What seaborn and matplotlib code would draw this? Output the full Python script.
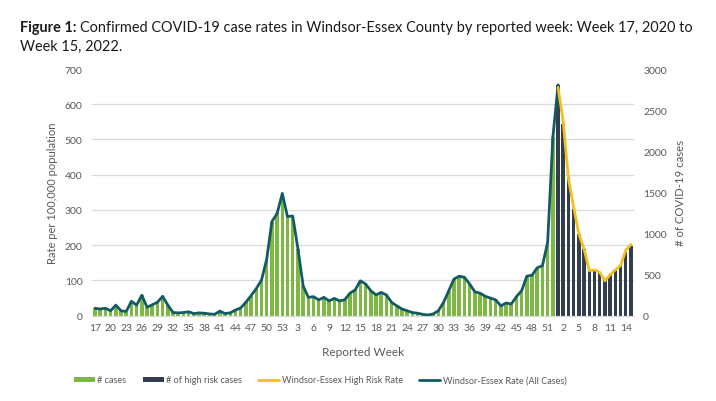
import numpy as np
import pandas as pd
import seaborn as sns
import matplotlib
matplotlib.use("Agg")
import matplotlib.pyplot as plt
from matplotlib.patches import Patch
from matplotlib.lines import Line2D

# ---------------- data ----------------
weeks = list(range(17, 54)) + list(range(1, 53)) + list(range(1, 16))

# Windsor-Essex rate (all cases) per 100,000 — 2020 wk17 .. 2022 wk1
rate_all = [21, 19, 21, 14, 30, 14, 12, 41, 30, 58, 24, 31, 38, 55, 30, 9, 8, 9, 11, 6,
            8, 7, 5, 4, 13, 6, 8, 16, 22, 38, 57, 77, 101, 160, 267, 290, 347, 281, 283, 190,
            85, 52, 54, 45, 52, 42, 49, 42, 45, 64, 73, 99, 90, 71, 59, 66, 59, 38, 28, 19,
            14, 9, 7, 4, 2, 5, 14, 38, 71, 104, 112, 109, 90, 68, 64, 55, 50, 45, 28, 36,
            33, 54, 71, 112, 115, 136, 142, 208, 506, 655]

# # cases (green bars) — 2020 wk17 .. 2021 wk52
cases = [90, 81, 90, 60, 129, 60, 51, 176, 129, 249, 103, 133, 163, 236, 129, 39, 34, 39, 47, 26,
         34, 30, 21, 17, 56, 26, 34, 69, 94, 163, 244, 330, 433, 686, 1144, 1243, 1487, 1204, 1213, 814,
         364, 223, 231, 193, 223, 180, 210, 180, 193, 274, 313, 424, 386, 304, 253, 283, 253, 163, 120, 81,
         60, 39, 30, 17, 9, 21, 60, 163, 304, 446, 480, 467, 386, 291, 274, 236, 214, 193, 120, 154,
         141, 231, 304, 480, 493, 583, 609, 891, 2169]

# # of high risk cases (dark bars) — 2022 wk1 .. wk15
high_risk_cases = [2800, 2330, 1684, 1300, 990, 810, 550, 550, 525, 435, 490, 565, 615, 780, 850]

# Windsor-Essex high risk rate per 100,000 — 2022 wk1 .. wk15
rate_high_risk = [648, 549, 388, 308, 232, 189, 128, 130, 123, 99, 116, 130, 142, 185, 202]

# ---------------- frames ----------------
n_green = len(cases)
idx_all = np.arange(len(weeks))
df_green = pd.DataFrame({"pos": idx_all[:n_green], "cases": cases})
df_dark = pd.DataFrame({"pos": idx_all[n_green:], "cases": high_risk_cases})
df_rate = pd.DataFrame({"pos": idx_all[:len(rate_all)], "rate": rate_all})
df_hr = pd.DataFrame({"pos": idx_all[n_green:], "rate": rate_high_risk})

GREEN = "#7DB843"
DARK = "#323E4F"
YELLOW = "#F2BF1F"
TEAL = "#145A62"
GRAY = "#595959"

sns.set_theme(style="white")
plt.rcParams["font.family"] = ["Lato", "DejaVu Sans"]

fig = plt.figure(figsize=(7.16, 4.02), dpi=100)
ax = fig.add_axes([92.4 / 716, 1 - 316.7 / 402, 541.1 / 716, 246.7 / 402])
ax2 = ax.twinx()

# bars on the case axis (right side)
sns.barplot(data=df_green, x="pos", y="cases", native_scale=True, color=GREEN,
            width=0.68, saturation=1, ax=ax, linewidth=0)
sns.barplot(data=df_dark, x="pos", y="cases", native_scale=True, color=DARK,
            width=0.68, saturation=1, ax=ax, linewidth=0)

# lines on the rate axis (left side)
sns.lineplot(data=df_rate, x="pos", y="rate", color=TEAL, linewidth=2.0, ax=ax2)
sns.lineplot(data=df_hr, x="pos", y="rate", color=YELLOW, linewidth=2.0, ax=ax2)

ax.set_ylim(0, 3000)
ax.set_xlim(-0.5, len(weeks) - 0.5)
ax.set_yticks(np.arange(0, 3001, 500))
ax.set_yticks(np.linspace(0, 3000, 8), minor=True)
ax.yaxis.grid(True, which="minor", color="#D9D9D9", linewidth=0.9)
ax.yaxis.grid(False, which="major")
ax.set_axisbelow(True)
ax.yaxis.tick_right()
ax.yaxis.set_label_position("right")
ax.tick_params(axis="y", which="both", length=0, labelsize=7.5, labelcolor=GRAY, pad=7,
               left=False, labelleft=False, right=True, labelright=True)
ax.tick_params(axis="y", which="minor", labelright=False)
ax.set_ylabel("# of COVID-19 cases", fontsize=8.2, color=GRAY)
ax.yaxis.set_label_coords(1.077, 0.5)

ax.set_xticks(idx_all[::3])
ax.set_xticklabels([str(w) for w in weeks[::3]])
ax.tick_params(axis="x", length=0, labelsize=7.5, labelcolor=GRAY, pad=5)
ax.set_xlabel("Reported Week", fontsize=8.5, color=GRAY)
ax.xaxis.set_label_coords(0.5, -0.124)

for s in ["top", "left", "right"]:
    ax.spines[s].set_visible(False)
ax.spines["bottom"].set_color("#D9D9D9")
ax.spines["bottom"].set_linewidth(0.9)

ax2.set_ylim(0, 700)
ax2.set_yticks(np.arange(0, 701, 100))
ax2.yaxis.tick_left()
ax2.yaxis.set_label_position("left")
ax2.tick_params(axis="y", length=0, labelsize=7.5, labelcolor=GRAY, pad=7,
                right=False, labelright=False, left=True, labelleft=True)
ax2.set_ylabel("Rate per 100,000 population", fontsize=8, color=GRAY)
ax2.yaxis.set_label_coords(-0.064, 0.5)
ax2.set_xlabel("")
for s in ax2.spines.values():
    s.set_visible(False)
ax2.grid(False)

# title
renderer = fig.canvas.get_renderer()
t_bold = fig.text(20 / 716, 1 - 28 / 402, "Figure 1:", fontsize=10.45, fontweight="bold",
                  va="center", ha="left", color="#1a1a1a")
bb = t_bold.get_window_extent(renderer=renderer)
fig.text((bb.x1 + 3) / 716, 1 - 28 / 402,
         "Confirmed COVID-19 case rates in Windsor-Essex County by reported week: Week 17, 2020 to",
         fontsize=10.45, va="center", ha="left", color="#1a1a1a")
fig.text(20 / 716, 1 - 47 / 402, "Week 15, 2022.", fontsize=10.45, va="center", ha="left",
         color="#1a1a1a")

handles = [
    Patch(facecolor=GREEN, edgecolor="none"),
    Patch(facecolor=DARK, edgecolor="none"),
    Line2D([0], [0], color=YELLOW, linewidth=2),
    Line2D([0], [0], color=TEAL, linewidth=2),
]
labels = ["# cases", "# of high risk cases", "Windsor-Essex High Risk Rate",
          "Windsor-Essex Rate (All Cases)"]
leg = fig.legend(handles, labels, loc="center", bbox_to_anchor=(320 / 716, 1 - 381 / 402),
                 ncol=4, frameon=False, fontsize=6.6, handlelength=2.3, handleheight=0.5,
                 handletextpad=0.25, columnspacing=1.8)
for t in leg.get_texts():
    t.set_color(GRAY)

fig.savefig("out.png", dpi=100)
